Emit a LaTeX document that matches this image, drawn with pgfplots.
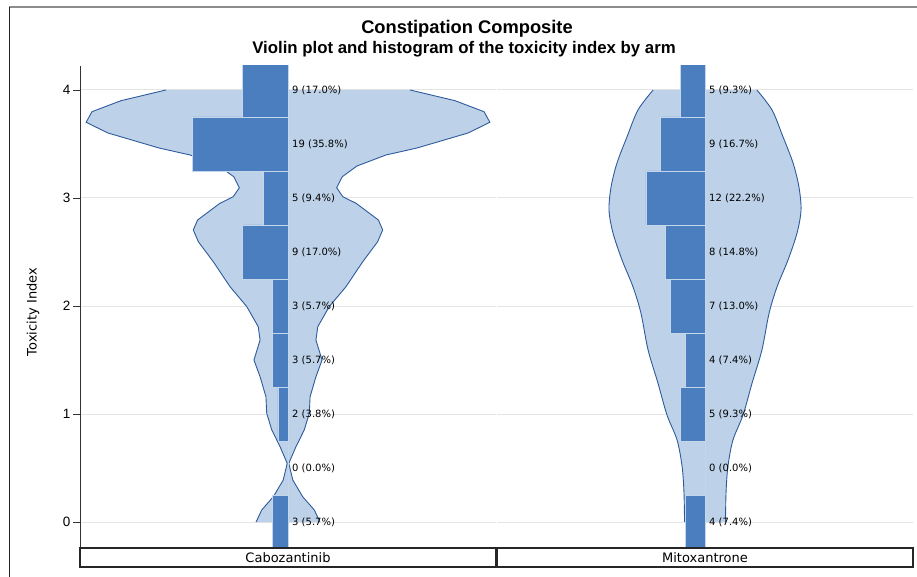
\documentclass[border=0pt]{standalone}
\usepackage{fontspec}
\setmainfont{DejaVu Sans}
\newfontfamily\libsans{Liberation Sans}
\usepackage{pgfplots}
\usepackage{pgfplotstable}
\pgfplotsset{compat=1.18}
\usepgfplotslibrary{fillbetween}

\definecolor{barblue}{HTML}{4A7EBF}
\definecolor{barline}{HTML}{C3D6EC}
\definecolor{violinfill}{HTML}{BDD2E9}
\definecolor{violinedge}{HTML}{2E5A9C}
\definecolor{gridgray}{HTML}{E4E4E4}

% histogram: bin centre, count, percent
\pgfplotstableread{
y   n  pct
0   3  5.7
0.5 0  0.0
1   2  3.8
1.5 3  5.7
2   3  5.7
2.5 9  17.0
3   5  9.4
3.5 19 35.8
4   9  17.0
}\cabohist
\pgfplotstableread{
y   n  pct
0   4  7.4
0.5 0  0.0
1   5  9.3
1.5 4  7.4
2   7  13.0
2.5 8  14.8
3   12 22.2
3.5 9  16.7
4   5  9.3
}\mitohist

% violin half-widths (same units as percent)
\pgfplotstableread{
y     w
0.000 12.0
0.111 9.9
0.235 5.5
0.389 1.8
0.543 0.3
0.698 3.0
0.852 6.1
1.006 8.0
1.160 8.3
1.345 10.5
1.500 12.8
1.685 10.5
1.809 11.2
1.994 15.5
2.179 21.8
2.410 28.1
2.595 33.7
2.704 35.6
2.796 34.0
2.951 25.6
3.012 20.6
3.095 18.3
3.197 20.4
3.296 25.9
3.398 36.8
3.463 48.5
3.602 67.7
3.701 75.9
3.799 73.7
3.901 62.8
4.000 45.9
}\caboviolin
\pgfplotstableread{
y     w
0.000 7.7
0.269 7.9
0.512 8.6
0.759 10.5
0.991 14.3
1.287 17.7
1.593 21.4
1.935 24.1
2.179 27.1
2.426 31.2
2.676 34.6
2.889 36.1
3.105 35.3
3.324 33.1
3.568 29.3
3.815 25.2
4.000 19.5
}\mitoviolin

\pgfplotsset{
  panel/.style={
    set layers,
    scale only axis,
    width=416pt, height=482pt,
    xmin=-78.2, xmax=78.2,
    ymin=-0.2407, ymax=4.2222,
    ytick={0,1,2,3,4},
    xtick=\empty,
    ymajorgrids,
    grid style={gridgray, line width=1pt},
    axis x line=none,
    axis y line*=left,
    tick align=outside,
    major tick length=7pt,
    tick style={black!80, line width=0.8pt},
    y axis line style={black!80, line width=0.9pt, -},
    /pgf/number format/assume math mode=true,
    yticklabel style={font=\libsans\fontsize{13.5}{15}\selectfont, text=black, xshift=1pt},
  },
  lbl/.style={
    only marks, mark=*, mark size=0pt,
    mark options={draw=none, fill=none},
    visualization depends on={\thisrow{n}\as\vcnt},
    visualization depends on={\thisrow{pct}\as\vpct},
    nodes near coords={\pgfmathprintnumber[fixed,precision=0]{\vcnt}\ (\pgfmathprintnumber[fixed,fixed zerofill,precision=1]{\vpct}\%)},
    nodes near coords style={anchor=west, inner sep=0pt, xshift=4pt,
      font=\fontsize{10}{12}\selectfont, text=black},
  },
}

\begin{document}
\begin{tikzpicture}
% outer frame
\draw[gray!90, line width=1.4pt] (9pt,-7pt) -- (917pt,-7pt);
\draw[black!85, line width=1pt] (9pt,-7pt) -- (9pt,-577pt);

\node[font=\libsans\bfseries\fontsize{18.3}{21}\selectfont] at (467pt,-29pt) {Constipation Composite};
\node[font=\libsans\bfseries\fontsize{16.8}{19}\selectfont] at (464pt,-49pt) {Violin plot and histogram of the toxicity index by arm};
\node[rotate=90, font=\fontsize{13}{15}\selectfont, text=black] at (33pt,-312pt) {Toxicity Index};

\begin{axis}[panel, at={(80pt,-548pt)}, anchor=south west]
  \addplot[name path=cR, violinedge, line width=0.9pt] table[x=w, y=y] {\caboviolin};
  \addplot[name path=cL, violinedge, line width=0.9pt] table[x expr=-\thisrow{w}, y=y] {\caboviolin};
  \addplot[violinfill] fill between[of=cL and cR, reverse=true];
  \addplot[xbar, bar width=0.5, bar shift=0pt, fill=barblue, draw=barline, line width=0.8pt]
    table[x expr=-\thisrow{pct}, y=y] {\cabohist};
  \addplot[lbl] table[x expr=0, y=y] {\cabohist};
\end{axis}

\begin{axis}[panel, at={(497pt,-548pt)}, anchor=south west,
    y axis line style={draw=none}, yticklabels=\empty, major tick length=0pt]
  \addplot[name path=mR, violinedge, line width=0.9pt, smooth] table[x=w, y=y] {\mitoviolin};
  \addplot[name path=mL, violinedge, line width=0.9pt, smooth] table[x expr=-\thisrow{w}, y=y] {\mitoviolin};
  \addplot[violinfill] fill between[of=mL and mR, reverse=true];
  \addplot[xbar, bar width=0.5, bar shift=0pt, fill=barblue, draw=barline, line width=0.8pt]
    table[x expr=-\thisrow{pct}, y=y] {\mitohist};
  \addplot[lbl] table[x expr=0, y=y] {\mitohist};
\end{axis}

% category strip
\draw[black!85, line width=1.2pt] (80pt,-548pt) rectangle (496pt,-567pt);
\draw[black!85, line width=1.2pt] (497pt,-548pt) rectangle (913pt,-567pt);
\node[font=\fontsize{13}{15}\selectfont, text=black] at (288pt,-557.5pt) {Cabozantinib};
\node[font=\fontsize{13}{15}\selectfont, text=black] at (705pt,-557.5pt) {Mitoxantrone};

\pgfresetboundingbox
\useasboundingbox (0pt,0pt) rectangle (917pt,-577pt);
\end{tikzpicture}
\end{document}
